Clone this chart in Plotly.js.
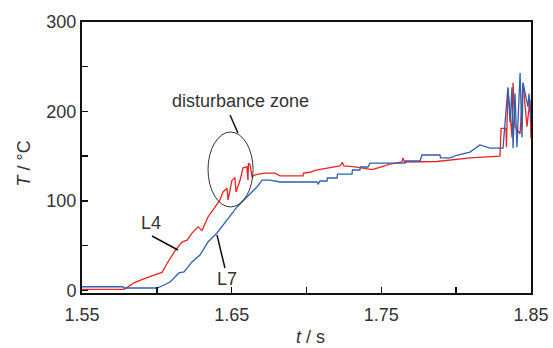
<!DOCTYPE html>
<html>
<head>
<meta charset="utf-8">
<script src="https://cdn.plot.ly/plotly-3.0.1.min.js"></script>
<style>html,body{margin:0;padding:0;background:#fff;}#chart{width:553px;height:348px;}</style>
</head>
<body>
<div id="chart"></div>
<script>
// L4 (red) series
const l4_t = [1.550,1.578,1.580,1.5854,1.5948,1.6035,1.6068,1.6121,1.6168,1.6202,1.6235,1.6275,1.6302,1.6342,1.6389,1.6422,1.6442,1.6469,1.6476,1.6502,1.6522,1.6529,1.6556,1.6576,1.6602,1.6609,1.6612,1.6623,1.6636,1.6656,1.672,1.679,1.6823,1.6977,1.6980,1.7023,1.7063,1.7157,1.7224,1.7240,1.7250,1.7324,1.7357,1.7438,1.7478,1.7558,1.7638,1.7645,1.7655,1.7872,1.8092,1.8293,1.8300,1.8333,1.8336,1.8346,1.8373,1.8380,1.8393,1.8427,1.8447,1.8473,1.8493,1.8500];
const l4_T = [1,1,3,9,15,20,30,44,54,56,64,71,67,82,93,101,110,114,101,123,126,110,123,137,138,123,142,140,127,129,131,131,128,128,131,132,134.5,137,139,143,139,138,137,135,137,141,143.5,148,143.5,144,148,150,181,181,160,226,171,232,183,175,232,183,213,170];
// L7 (blue) series
const l7_t = [1.550,1.5774,1.578,1.6001,1.6035,1.6088,1.6115,1.6148,1.6182,1.6215,1.6235,1.6288,1.6342,1.6402,1.6469,1.6536,1.6602,1.6669,1.6703,1.6756,1.6823,1.7070,1.7077,1.7090,1.7137,1.7140,1.7204,1.7207,1.7304,1.7307,1.7357,1.7360,1.7411,1.7424,1.7658,1.7661,1.7758,1.7772,1.7892,1.7895,1.7959,1.8005,1.8092,1.8159,1.8226,1.8313,1.8346,1.8360,1.8373,1.8380,1.8393,1.8406,1.8427,1.8440,1.8447,1.8480,1.8487,1.8500];
const l7_T = [4,4,2.6,2.6,4.8,9.3,13.8,19.4,20.5,28.3,31.7,39.5,54,64.1,78.6,93.2,104.4,115.5,123.3,123.3,121.1,121.1,118.9,122.2,122.2,125.6,125.6,130,130,134.5,134.5,137.9,137.9,142.3,142.3,144.6,144.6,151.3,151.3,148,148,151,154.6,162.5,159,159,227,188,227,159,220,160,243,171,232,205,220,190];

const xTickVals = [1.55,1.60,1.65,1.70,1.75,1.80,1.85];
const xTickText = ['1.55','','1.65','','1.75','','1.85'];
const yTickVals = [0,50,100,150,200,250,300];
const yTickText = ['0','','100','','200','','300'];

const font = 'Liberation Sans, Arial, sans-serif';
const txt = '#333';

const traces = [
  {x: l4_t, y: l4_T, type: 'scatter', mode: 'lines', name: 'L4', line: {color: '#ee2222', width: 1.3}},
  {x: l7_t, y: l7_T, type: 'scatter', mode: 'lines', name: 'L7', line: {color: '#2f5fae', width: 1.3}}
];

const layout = {
  width: 553, height: 348,
  margin: {l: 82, r: 22, t: 22, b: 55},
  showlegend: false,
  paper_bgcolor: '#fff', plot_bgcolor: '#fff',
  font: {family: font, size: 18, color: txt},
  xaxis: {
    range: [1.55, 1.85], tickvals: xTickVals, ticktext: xTickText,
    ticks: 'inside', ticklen: 6, tickwidth: 1.5, tickcolor: '#111',
    showline: true, linecolor: '#111', linewidth: 2, mirror: true,
    showgrid: false, zeroline: false, ticklabelstandoff: 4,
    tickfont: {family: font, size: 18, color: txt}
  },
  yaxis: {
    range: [-3, 300], tickvals: yTickVals, ticktext: yTickText,
    ticks: 'inside', ticklen: 6, tickwidth: 1.5, tickcolor: '#111',
    showline: true, linecolor: '#111', linewidth: 2, mirror: true,
    showgrid: false, zeroline: false,
    tickfont: {family: font, size: 18, color: txt}
  },
  shapes: [
    {type: 'circle', xref: 'x', yref: 'y', x0: 1.6342, x1: 1.6643, y0: 93.2, y1: 177.0, line: {color: '#333', width: 1}},
    {type: 'line', xref: 'x', yref: 'y', x0: 1.6489, y0: 196.0, x1: 1.6542, y1: 175.9, line: {color: '#111', width: 1.5}},
    {type: 'line', xref: 'x', yref: 'y', x0: 1.5968, y0: 60.7, x1: 1.6141, y1: 45.1, line: {color: '#111', width: 1.5}},
    {type: 'line', xref: 'x', yref: 'y', x0: 1.6402, y0: 61.8, x1: 1.6455, y1: 24.9, line: {color: '#111', width: 1.5}}
  ],
  annotations: [
    {text: 'disturbance zone', x: 1.6556, y: 211.7, xref: 'x', yref: 'y', showarrow: false, font: {family: font, size: 18, color: txt}},
    {text: 'L4', x: 1.5961, y: 75.3, xref: 'x', yref: 'y', showarrow: false, font: {family: font, size: 18, color: txt}},
    {text: 'L7', x: 1.6469, y: 12.6, xref: 'x', yref: 'y', showarrow: false, font: {family: font, size: 18, color: txt}},
    {text: '<i>t</i> / s', x: (310 - 82) / 449, y: (293 - 337) / 271, xref: 'paper', yref: 'paper', xanchor: 'center', yanchor: 'middle', showarrow: false, font: {family: font, size: 18, color: txt}},
    {text: '<i>T</i> / °C', x: (24 - 82) / 449, y: (293 - 163.5) / 271, xref: 'paper', yref: 'paper', xanchor: 'center', yanchor: 'middle', textangle: -90, showarrow: false, font: {family: font, size: 18, color: txt}}
  ]
};

Plotly.newPlot('chart', traces, layout, {staticPlot: true, displayModeBar: false});
</script>
</body>
</html>
